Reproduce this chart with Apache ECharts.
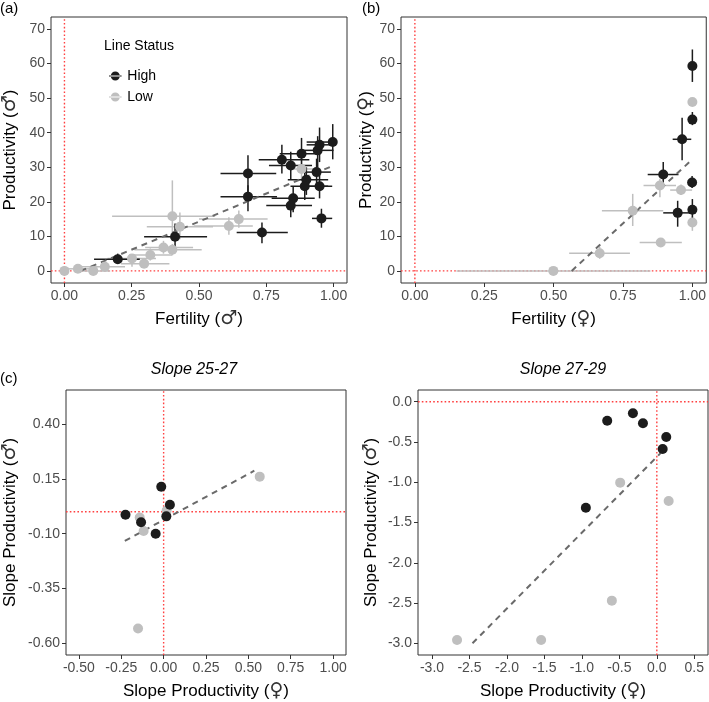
<!DOCTYPE html>
<html>
<head>
<meta charset="utf-8">
<script src="https://cdn.jsdelivr.net/npm/echarts@6/dist/echarts.min.js"></script>
<style>
  html, body { margin: 0; padding: 0; background: #fff; }
  #main { width: 709px; height: 702px; }
</style>
</head>
<body>
<div id="main"></div>
<script>
// panel (a): fertility vs productivity, males  [x, y, xlo, xhi, ylo, yhi]
const aHigh = [
  [0.198, 3.4, 0.11, 0.28, 2.0, 5.0],
  [0.411, 9.9, 0.296, 0.53, 6.4, 13.7],
  [0.682, 28.2, 0.58, 0.787, 22.5, 33.5],
  [0.682, 21.5, 0.58, 0.79, 17.3, 24.8],
  [0.734, 11.1, 0.64, 0.83, 8.0, 14.0],
  [0.808, 32.2, 0.722, 0.91, 28.2, 36.5],
  [0.841, 30.5, 0.76, 0.92, 26.5, 34.5],
  [0.881, 33.9, 0.80, 0.95, 29.5, 38.5],
  [0.941, 34.9, 0.89, 1.0, 30.0, 39.0],
  [0.948, 36.5, 0.90, 0.995, 31.5, 41.5],
  [0.997, 37.3, 0.90, 1.0, 32.3, 42.5],
  [0.937, 28.6, 0.89, 0.99, 25.0, 32.5],
  [0.899, 26.4, 0.83, 0.98, 22.0, 30.0],
  [0.893, 24.5, 0.84, 0.98, 20.5, 28.5],
  [0.948, 24.5, 0.90, 0.995, 21.0, 28.0],
  [0.85, 21.0, 0.77, 0.93, 17.0, 24.5],
  [0.841, 18.9, 0.75, 0.92, 15.5, 22.0],
  [0.955, 15.2, 0.92, 0.995, 12.5, 18.0]
]
const aLow = [
  [0.0, 0.0, 0.0, 0.0, 0.0, 0.0],
  [0.05, 0.6, 0.0, 0.1, 0.0, 1.2],
  [0.107, 0.0, 0.05, 0.17, 0.0, 0.0],
  [0.15, 1.2, 0.05, 0.225, 0.3, 2.2],
  [0.251, 3.6, 0.16, 0.34, 1.2, 4.6],
  [0.296, 2.1, 0.21, 0.39, 0.9, 3.5],
  [0.319, 4.6, 0.24, 0.40, 3.0, 6.5],
  [0.368, 6.8, 0.30, 0.478, 5.0, 8.7],
  [0.401, 6.1, 0.26, 0.51, 4.5, 7.8],
  [0.401, 15.8, 0.177, 0.56, 9.5, 26.2],
  [0.429, 12.8, 0.306, 0.552, 9.2, 16.9],
  [0.611, 13.0, 0.48, 0.70, 10.5, 15.5],
  [0.648, 15.0, 0.50, 0.755, 12.5, 17.5],
  [0.881, 29.5, 0.84, 0.93, 26.0, 33.0]
]
const aFit = [[0.06, 0], [1.0, 30.5]]

// panel (b): females
const bHigh = [
  [1.0, 59.3, 1.0, 1.0, 54.7, 64.1],
  [1.0, 43.8, 1.0, 1.0, 42.2, 46.0],
  [0.963, 38.1, 0.929, 0.996, 32.0, 44.3],
  [0.895, 27.9, 0.839, 0.95, 25.0, 31.5],
  [0.999, 25.6, 0.999, 0.999, 24.0, 27.5],
  [0.947, 16.8, 0.895, 1.0, 12.8, 20.3],
  [1.0, 17.7, 1.0, 1.0, 14.5, 20.8]
]
const bLow = [
  [1.0, 48.9, 1.0, 1.0, 48.9, 48.9],
  [0.883, 24.7, 0.824, 0.941, 21.3, 26.7],
  [0.959, 23.4, 0.92, 0.999, 22.0, 25.0],
  [0.785, 17.4, 0.674, 0.895, 13.0, 22.3],
  [1.0, 14.0, 1.0, 1.0, 11.6, 16.0],
  [0.886, 8.2, 0.81, 0.962, 7.5, 9.0],
  [0.666, 5.1, 0.556, 0.775, 3.5, 7.0],
  [0.499, 0.0, 0.15, 0.849, 0.0, 0.0]
]
const bFit = [[0.565, 0], [1.0, 32.3]]

// panel (c): slopes
const cLHigh = [[-0.225, -0.014], [-0.133, -0.048], [-0.014, 0.114], [0.037, 0.032], [0.016, -0.021], [-0.047, -0.1]]
const cLLow = [[-0.141, -0.026], [-0.118, -0.088], [0.018, 0.006], [0.567, 0.16], [-0.151, -0.532]]
const cLFit = [[-0.229, -0.133], [0.535, 0.187]]
const cRHigh = [[-0.662, -0.236], [-0.319, -0.144], [-0.185, -0.268], [0.126, -0.438], [0.078, -0.587], [-0.947, -1.316]]
const cRLow = [[-0.489, -1.005], [0.158, -1.233], [-0.6, -2.47], [-2.666, -2.958], [-1.544, -2.958]]
const cRFit = [[-2.46, -3.0], [0.07, -0.62]]

// tick labels
const fertTicks = [0, 0.25, 0.5, 0.75, 1]
const prodTicks = [0, 10, 20, 30, 40, 50, 60, 70]
const cLXTicks = [-0.5, -0.25, 0, 0.25, 0.5, 0.75, 1]
const cLYTicks = [-0.6, -0.35, -0.1, 0.15, 0.4]
const cRXTicks = [-3, -2.5, -2, -1.5, -1, -0.5, 0, 0.5]
const cRYTicks = [-3, -2.5, -2, -1.5, -1, -0.5, 0]

// axis ranges [xmin, xmax, ymin, ymax]
const ranges = [
  [-0.05, 1.05, -3.5, 73.5],
  [-0.05, 1.05, -3.5, 73.5],
  [-0.576, 1.076, -0.653, 0.555],
  [-3.187, 0.683, -3.145, 0.145]
]

const HIGH = '#1c1c1c'
const LOW = '#bfbfbf'
const RED = '#ff4040'
const FONT = 'Liberation Sans'

let myChart = echarts.init(document.getElementById('main'))

const makeAxis = (gridIndex, min, max, ticks, digits, name, nameGap) => ({
  gridIndex,
  type: 'value',
  min,
  max,
  name,
  nameLocation: 'middle',
  nameGap,
  nameTextStyle: {
    fontFamily: FONT,
    fontSize: 17,
    color: '#000',
    rich: { s: { fontFamily: 'DejaVu Sans', fontSize: 19, color: '#333' } }
  },
  axisLine: { show: false, onZero: false },
  splitLine: { show: false },
  axisTick: { show: true, length: 4, customValues: ticks, lineStyle: { color: '#333' } },
  axisLabel: {
    customValues: ticks,
    margin: 6,
    fontFamily: FONT,
    fontSize: 14,
    color: '#4d4d4d',
    formatter: (v) => Number(v).toFixed(digits)
  }
})

const errRender = (color) => (params, api) => {
  const x = api.value(0)
  const y = api.value(1)
  const h0 = api.coord([api.value(2), y])
  const h1 = api.coord([api.value(3), y])
  const v0 = api.coord([x, api.value(4)])
  const v1 = api.coord([x, api.value(5)])
  const style = { stroke: color, lineWidth: 1.5 }
  return {
    type: 'group',
    children: [
      { type: 'line', shape: { x1: h0[0], y1: h0[1], x2: h1[0], y2: h1[1] }, style },
      { type: 'line', shape: { x1: v0[0], y1: v0[1], x2: v1[0], y2: v1[1] }, style }
    ]
  }
}

// red dotted lines at x = 0 and y = 0, spanning the axis range
const refRender = (params, api) => {
  const p0 = api.coord([api.value(0), api.value(1)])
  const p1 = api.coord([api.value(2), api.value(3)])
  return {
    type: 'line',
    shape: { x1: p0[0], y1: p0[1], x2: p1[0], y2: p1[1] },
    style: { stroke: RED, lineWidth: 1.4, lineDash: [1.6, 2.2] }
  }
}
const refLines = (i) => {
  const r = ranges[i]
  return {
    name: 'ref',
    type: 'custom',
    xAxisIndex: i,
    yAxisIndex: i,
    silent: true,
    z: 1,
    data: [[0, r[2], 0, r[3]], [r[0], 0, r[1], 0]],
    encode: { x: [0, 2], y: [1, 3] },
    renderItem: refRender
  }
}

const fitLine = (i, data) => ({
  name: 'fit',
  type: 'line',
  xAxisIndex: i,
  yAxisIndex: i,
  data,
  symbol: 'none',
  z: 3,
  lineStyle: { color: '#6a6a6a', width: 2, type: [6, 5] }
})

const errSeries = (i, name, data, color) => ({
  name: name + ' err',
  type: 'custom',
  xAxisIndex: i,
  yAxisIndex: i,
  data,
  encode: { x: 0, y: 1 },
  renderItem: errRender(color),
  z: 2
})

const points = (i, name, data, color) => ({
  name,
  type: 'scatter',
  xAxisIndex: i,
  yAxisIndex: i,
  data: data.map((d) => [d[0], d[1]]),
  symbolSize: 10,
  itemStyle: { color, opacity: 1 },
  z: name === 'High' ? 5 : 4
})

const legendIcon = 'path://M0,4.4H14V5.6H0Z M2,5a5,5 0 1,0 10,0a5,5 0 1,0 -10,0Z'

let option = {
  animation: false,
  grid: [
    { left: 49, top: 17, width: 298, height: 266, show: true, borderColor: '#333', borderWidth: 1 },
    { left: 401, top: 17, width: 307, height: 266, show: true, borderColor: '#333', borderWidth: 1 },
    { left: 65, top: 390, width: 281, height: 265, show: true, borderColor: '#333', borderWidth: 1 },
    { left: 418, top: 390, width: 290, height: 265, show: true, borderColor: '#333', borderWidth: 1 }
  ],
  xAxis: [
    makeAxis(0, ranges[0][0], ranges[0][1], fertTicks, 2, 'Fertility ({s|♂})', 27),
    makeAxis(1, ranges[1][0], ranges[1][1], fertTicks, 2, 'Fertility ({s|♀})', 27),
    makeAxis(2, ranges[2][0], ranges[2][1], cLXTicks, 2, 'Slope Productivity ({s|♀})', 27),
    makeAxis(3, ranges[3][0], ranges[3][1], cRXTicks, 1, 'Slope Productivity ({s|♀})', 27)
  ],
  yAxis: [
    makeAxis(0, ranges[0][2], ranges[0][3], prodTicks, 0, 'Productivity ({s|♂})', 31),
    makeAxis(1, ranges[1][2], ranges[1][3], prodTicks, 0, 'Productivity ({s|♀})', 21),
    makeAxis(2, ranges[2][2], ranges[2][3], cLYTicks, 2, 'Slope Productivity ({s|♂})', 46),
    makeAxis(3, ranges[3][2], ranges[3][3], cRYTicks, 1, 'Slope Productivity ({s|♂})', 37)
  ],
  legend: {
    data: ['High', 'Low'],
    orient: 'vertical',
    left: 104,
    top: 64,
    itemWidth: 14,
    itemHeight: 9,
    itemGap: 7,
    icon: legendIcon,
    selectedMode: false,
    textStyle: { fontFamily: FONT, fontSize: 14, color: '#000' }
  },
  graphic: [
    { type: 'text', left: 0, top: 1, style: { text: '(a)', font: '15px ' + FONT, fill: '#000' } },
    { type: 'text', left: 362, top: 1, style: { text: '(b)', font: '15px ' + FONT, fill: '#000' } },
    { type: 'text', left: 0, top: 371, style: { text: '(c)', font: '15px ' + FONT, fill: '#000' } },
    { type: 'text', left: 104, top: 39, style: { text: 'Line Status', font: '14px ' + FONT, fill: '#000' } },
    { type: 'text', x: 194, y: 370, style: { text: 'Slope 25-27', font: 'italic 16px ' + FONT, fill: '#000', align: 'center', verticalAlign: 'middle' } },
    { type: 'text', x: 563, y: 370, style: { text: 'Slope 27-29', font: 'italic 16px ' + FONT, fill: '#000', align: 'center', verticalAlign: 'middle' } }
  ],
  series: [
    refLines(0), refLines(1), refLines(2), refLines(3),
    fitLine(0, aFit), fitLine(1, bFit), fitLine(2, cLFit), fitLine(3, cRFit),
    errSeries(0, 'Low', aLow, LOW), errSeries(0, 'High', aHigh, HIGH),
    errSeries(1, 'Low', bLow, LOW), errSeries(1, 'High', bHigh, HIGH),
    points(0, 'Low', aLow, LOW), points(0, 'High', aHigh, HIGH),
    points(1, 'Low', bLow, LOW), points(1, 'High', bHigh, HIGH),
    points(2, 'Low', cLLow, LOW), points(2, 'High', cLHigh, HIGH),
    points(3, 'Low', cRLow, LOW), points(3, 'High', cRHigh, HIGH)
  ]
}

myChart.setOption(option)
</script>
</body>
</html>
